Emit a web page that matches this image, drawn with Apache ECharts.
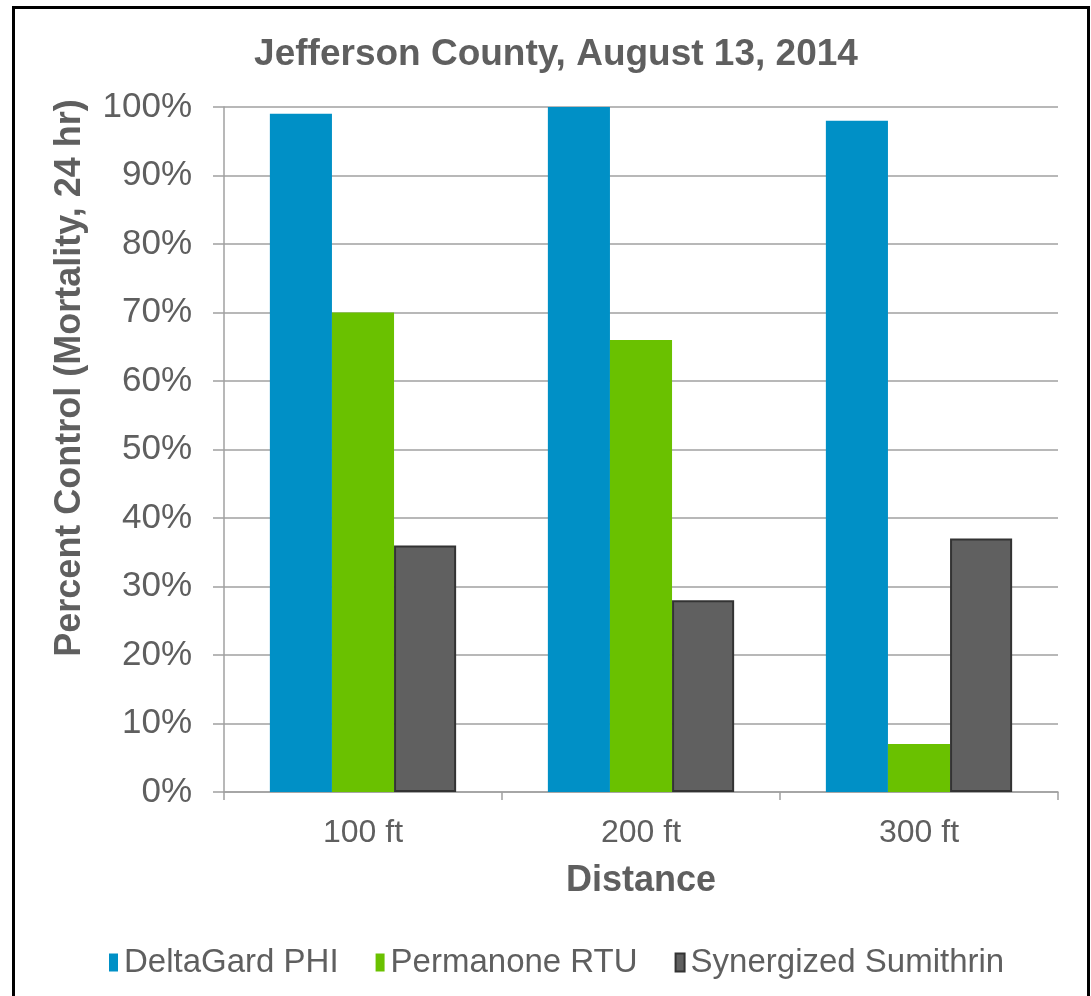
<!DOCTYPE html>
<html>
<head>
<meta charset="utf-8">
<script src="https://cdn.jsdelivr.net/npm/echarts@6/dist/echarts.min.js"></script>
<style>
  html, body { margin: 0; padding: 0; background: #fff; }
  #chart { position: absolute; left: 0; top: 0; width: 1091px; height: 996px; }
  #frame { position: absolute; left: 12px; top: 6px; width: 1072px; height: 1010px; border: 3px solid #000; pointer-events: none; }
</style>
</head>
<body>
<div id="chart"></div>
<div id="frame"></div>
<script>
  // data
  const distances = ['100 ft', '200 ft', '300 ft'];
  const deltaGard = [99, 100, 98];
  const permanone = [70, 66, 7];
  const sumithrin = [36, 28, 37];

  const textColor = '#5f5f5f';
  const font = 'Liberation Sans, Arial, sans-serif';

  const chart = echarts.init(document.getElementById('chart'));

  const option = {
    backgroundColor: '#fff',
    textStyle: { fontFamily: font },
    title: {
      text: 'Jefferson County, August 13, 2014',
      left: 551,
      textAlign: 'center',
      top: 31,
      textStyle: { fontSize: 37, fontWeight: 'bold', color: textColor, fontFamily: font }
    },
    grid: { left: 224, right: 33, top: 107, bottom: 204 },
    legend: {
      left: 104,
      top: 941,
      icon: 'rect',
      itemWidth: 9,
      itemHeight: 18,
      itemGap: 37,
      textStyle: { fontSize: 33, color: textColor, fontFamily: font, padding: [0, 0, 0, 1] },
      data: ['DeltaGard PHI', 'Permanone RTU', 'Synergized Sumithrin']
    },
    xAxis: {
      type: 'category',
      data: distances,
      name: 'Distance',
      nameLocation: 'middle',
      nameGap: 71,
      nameTextStyle: { fontSize: 36, fontWeight: 'bold', color: textColor, fontFamily: font },
      axisLine: { lineStyle: { color: '#a0a0a0', width: 1.5 } },
      axisTick: { show: true, length: 8, lineStyle: { color: '#a0a0a0', width: 1.5 } },
      axisLabel: { fontSize: 32, color: textColor, margin: 25, fontFamily: font }
    },
    yAxis: {
      type: 'value',
      min: 0,
      max: 100,
      interval: 10,
      axisLine: { show: true, lineStyle: { color: '#a0a0a0', width: 1.5 } },
      axisTick: { show: true, length: 11, lineStyle: { color: '#a0a0a0', width: 1.5 } },
      axisLabel: { fontSize: 35, color: textColor, margin: 32, formatter: '{value}%', fontFamily: font },
      splitLine: { lineStyle: { color: '#a0a0a0', width: 1.5 } }
    },
    graphic: [
      {
        type: 'text',
        x: 70,
        y: 378,
        rotation: Math.PI / 2,
        style: {
          text: 'Percent Control (Mortality, 24 hr)',
          font: 'bold 36px "Liberation Sans", Arial, sans-serif',
          fill: textColor,
          align: 'center',
          verticalAlign: 'middle'
        }
      }
    ],
    series: [
      {
        name: 'DeltaGard PHI',
        type: 'bar',
        data: deltaGard,
        barGap: '0%',
        barCategoryGap: '33%',
        itemStyle: { color: '#0090c6' }
      },
      {
        name: 'Permanone RTU',
        type: 'bar',
        data: permanone,
        itemStyle: { color: '#6ac100' }
      },
      {
        name: 'Synergized Sumithrin',
        type: 'bar',
        data: sumithrin,
        itemStyle: { color: '#606060', borderColor: '#333333', borderWidth: 2 }
      }
    ]
  };

  chart.setOption(option);
</script>
</body>
</html>
